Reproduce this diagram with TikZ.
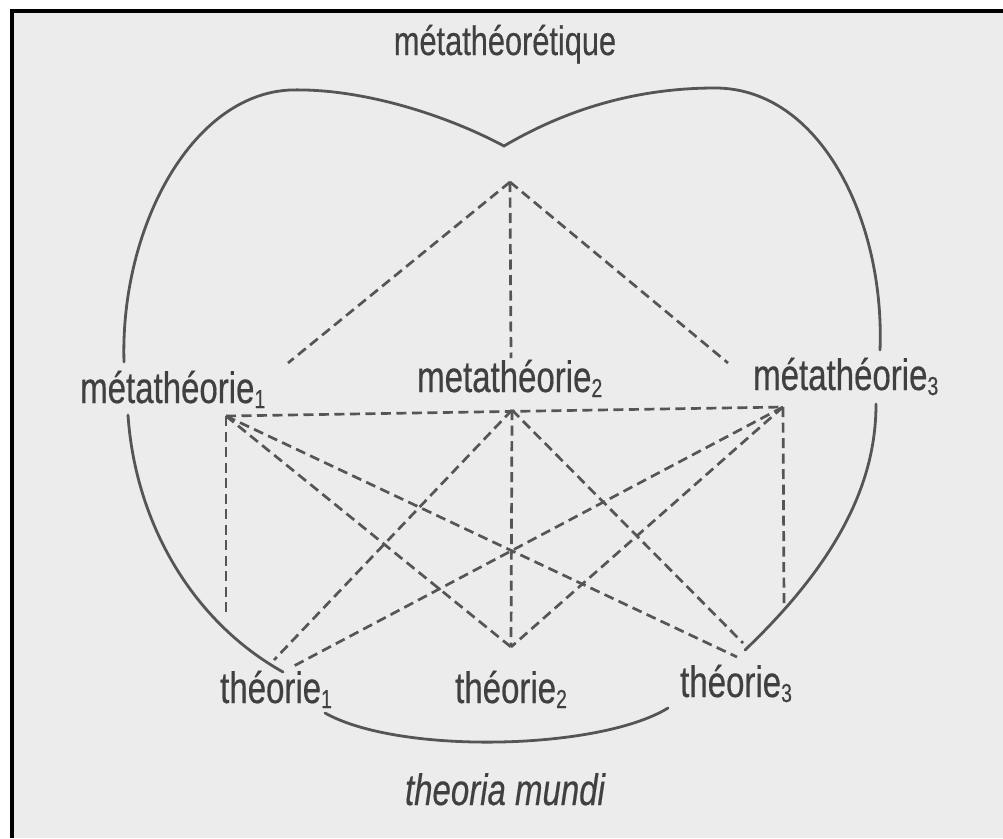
\documentclass[tikz,border=0pt]{standalone}
\usepackage{fontspec}
\setmainfont{Liberation Sans}[FakeStretch=0.75,FakeBold=0.4]
\definecolor{bg}{HTML}{ECECEC}
\definecolor{ink}{HTML}{404040}
\definecolor{lineink}{HTML}{555555}
\newcommand\idx[1]{\raisebox{-5pt}{\fontsize{26}{26}\selectfont #1}}
\begin{document}
\begin{tikzpicture}[x=1pt,y=-1pt,
  lbl/.style={anchor=base west, inner sep=0pt, text=ink, font=\fontsize{44}{44}\selectfont},
  dline/.style={draw=lineink, line width=2.7pt, dash pattern=on 10pt off 5.5pt},
  sline/.style={draw=lineink, line width=2.8pt, line cap=round}]
\useasboundingbox (0,0) rectangle (1003,838);
\fill[white] (0,0) rectangle (1003,838);
\fill[bg] (10,9) rectangle (1003,838);
\fill[black] (10,9) rectangle (14,838);
\fill[black] (10,9) rectangle (1003,13);

% labels
\node[lbl, anchor=base, font=\fontsize{41}{41}\selectfont] (top) at (505,55) {métathéorétique};
\node[lbl] (M1) at (80,403) {métathéorie\idx{1}};
\node[lbl] (M2) at (417,392) {metathéorie\idx{2}};
\node[lbl] (M3) at (753,390) {métathéorie\idx{3}};
\node[lbl] (T1) at (220,703) {théorie\idx{1}};
\node[lbl] (T2) at (455,703) {théorie\idx{2}};
\node[lbl] (T3) at (680,697) {théorie\idx{3}};
\node[lbl, anchor=base, font=\fontsize{44}{44}\selectfont\itshape] (TM) at (505,805) {theoria mundi};

% points
\coordinate (apex) at (510,182);
\coordinate (p1) at (226,416);
\coordinate (p2) at (512,410);
\coordinate (p3) at (783,407);
\coordinate (a1) at (288,363);
\coordinate (a2) at (511,358);
\coordinate (a3) at (728,363);
\coordinate (v1) at (226,613);
\coordinate (v3) at (784,606);
\coordinate (q1a) at (274,660);
\coordinate (q1b) at (290,668);
\coordinate (q2) at (511,647);
\coordinate (q3a) at (743,643);
\coordinate (q3b) at (737,657);

% dashed connectors
\draw[dline] (apex) -- (a1);
\draw[dline] (apex) -- (a2);
\draw[dline] (apex) -- (a3);
\draw[dline] (p1) -- (p3);
\draw[dline] (p1) -- (v1);
\draw[dline] (p1) -- (q2);
\draw[dline] (p1) -- (q3b);
\draw[dline] (p2) -- (q1a);
\draw[dline] (p2) -- (q2);
\draw[dline] (p2) -- (q3a);
\draw[dline] (p3) -- (q1b);
\draw[dline] (p3) -- (q2);
\draw[dline] (p3) -- (v3);

% heart outline
\coordinate (notch) at (504,146);
\draw[sline] (124,362) .. controls (120,230) and (190,95) .. (290,90)
  .. controls (360,88) and (444,114) .. (notch)
  .. controls (560,113) and (630,88) .. (715,88)
  .. controls (820,88) and (885,220) .. (880,350);
\draw[sline] (128,415) .. controls (135,520) and (190,620) .. (283,672);
\draw[sline] (876,404) .. controls (876,470) and (850,550) .. (745,650);
\draw[sline] (325,713) .. controls (400,755) and (600,750) .. (668,708);
\end{tikzpicture}
\end{document}
